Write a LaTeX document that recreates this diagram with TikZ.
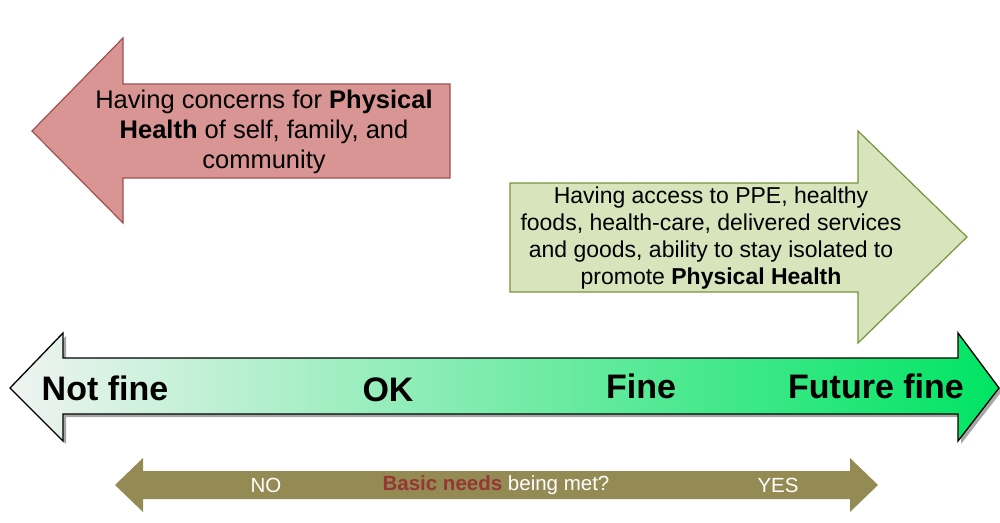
\documentclass[tikz,border=0pt]{standalone}
\usepackage{fontspec}
\setmainfont{Liberation Sans}
\definecolor{redfill}{HTML}{D99594}
\definecolor{redline}{HTML}{A0504F}
\definecolor{grnfill}{HTML}{D7E4BC}
\definecolor{grnline}{HTML}{77933C}
\definecolor{olive}{HTML}{948A54}
\definecolor{basicred}{HTML}{953735}
\definecolor{scaleL}{HTML}{F0F3F1}
\definecolor{scaleR}{HTML}{00E463}
\tikzset{
  lbl/.style={align=center, inner sep=0pt},
  scalelbl/.style={font=\fontsize{34}{40}\selectfont\bfseries, inner sep=0pt},
  needlbl/.style={font=\fontsize{20.5}{24}\selectfont, text=white, inner sep=0pt},
}
\begin{document}
\begin{tikzpicture}[x=1pt,y=-1pt]
\useasboundingbox (0,0) rectangle (1000,522);
% red arrow
\draw[fill=redfill, draw=redline, line width=1.2pt]
  (32,131) -- (123,38) -- (123,84) -- (450,84) -- (450,178) -- (123,178) -- (123,223) -- cycle;
\node[lbl, font=\fontsize{25.5}{30}\selectfont] (red) at (264,132)
  {Having concerns for \textbf{Physical}\\\textbf{Health} of self, family, and\\community};
% green arrow
\draw[fill=grnfill, draw=grnline, line width=1.2pt]
  (510,183) -- (858,183) -- (858,131) -- (967,237) -- (858,343) -- (858,292) -- (510,292) -- cycle;
\node[lbl, font=\fontsize{23}{27}\selectfont] (grn) at (711,238)
  {Having access to PPE, healthy\\foods, health-care, delivered services\\and goods, ability to stay isolated to\\promote \textbf{Physical Health}};
% main scale arrow
\fill[black!35] (13,391) -- (66,336) -- (66,361) -- (961,361) -- (961,336) -- (1002,391) -- (961,444) -- (961,417) -- (66,417) -- (66,444) -- cycle;
\draw[left color=scaleL, right color=scaleR, draw=black, line width=1.3pt]
  (10,388) -- (63,333) -- (63,358) -- (958,358) -- (958,333) -- (999,388) -- (958,441) -- (958,414) -- (63,414) -- (63,441) -- cycle;
\node[scalelbl] (notfine) at (105,388) {Not fine};
\node[scalelbl] (ok) at (388,390) {OK};
\node[scalelbl] (fine) at (641,386) {Fine};
\node[scalelbl] (future) at (876,386) {Future fine};
% basic needs arrow
\fill[olive] (115,485) -- (143,458) -- (143,471) -- (850,471) -- (850,458) -- (878,485) -- (850,512) -- (850,499) -- (143,499) -- (143,512) -- cycle;
\node[needlbl] (no) at (266,485) {NO};
\node[needlbl] (basic) at (496,485) {\textcolor{basicred}{\textbf{Basic needs}} being met?};
\node[needlbl] (yes) at (778,485) {YES};
\end{tikzpicture}
\end{document}
